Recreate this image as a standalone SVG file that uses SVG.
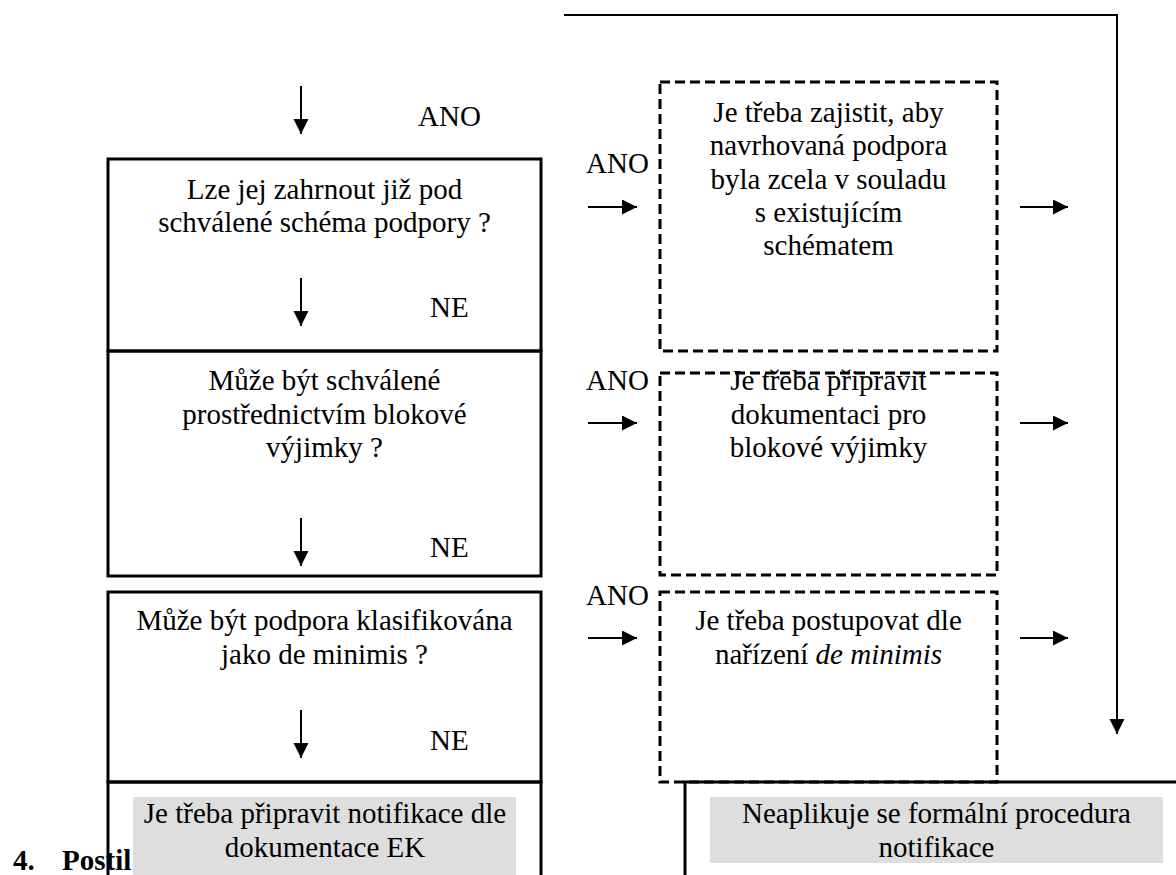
<svg xmlns="http://www.w3.org/2000/svg" width="1176" height="875" viewBox="0 0 1176 875">
<style>
text{font-family:"Times New Roman","Liberation Serif",serif;font-size:29px;fill:#000}
.c{text-anchor:middle}
.b{font-weight:bold}
.box{fill:none;stroke:#000;stroke-width:3}
.dash{fill:none;stroke:#000;stroke-width:3;stroke-dasharray:10 5}
.ln{fill:none;stroke:#000;stroke-width:2}
.hl{fill:#dedede}
</style>
<defs>
<marker id="ah" markerUnits="userSpaceOnUse" markerWidth="16" markerHeight="16" refX="15" refY="7.5" orient="auto">
<path d="M0,0 L15,7.5 L0,15 z" fill="#000"/>
</marker>
</defs>
<rect width="1176" height="875" fill="#fff"/>

<g id="heading">
<text class="b" x="13" y="870">4.</text>
<text class="b" x="62" y="870">Postil</text>
</g>

<g id="q1">
<rect class="box" x="108" y="159" width="433" height="192"/>
<text class="c" x="324.5" y="199">Lze jej zahrnout již pod</text>
<text class="c" x="324.5" y="232">schválené schéma podpory ?</text>
</g>

<g id="q2">
<rect class="box" x="108" y="351" width="433" height="225"/>
<text class="c" x="324.5" y="390">Může být schválené</text>
<text class="c" x="324.5" y="423.5">prostřednictvím blokové</text>
<text class="c" x="324.5" y="457">výjimky ?</text>
</g>

<g id="q3">
<rect class="box" x="108" y="592" width="433" height="190"/>
<text class="c" x="324.5" y="630">Může být podpora klasifikována</text>
<text class="c" x="324.5" y="664">jako de minimis ?</text>
</g>

<g id="notify">
<rect class="box" x="108" y="782" width="433" height="120"/>
<rect class="hl" x="133" y="797" width="383" height="80"/>
<text class="c" x="325" y="823">Je třeba připravit notifikace dle</text>
<text class="c" x="325" y="857">dokumentace EK</text>
</g>

<g id="a1">
<rect class="dash" x="660" y="82" width="337" height="269"/>
<text class="c" x="828.5" y="122">Je třeba zajistit, aby</text>
<text class="c" x="828.5" y="155">navrhovaná podpora</text>
<text class="c" x="828.5" y="188.5">byla zcela v souladu</text>
<text class="c" x="828.5" y="222">s existujícím</text>
<text class="c" x="828.5" y="255">schématem</text>
</g>

<g id="a2">
<rect class="dash" x="660" y="373" width="337" height="202"/>
<text class="c" x="828.5" y="390">Je třeba připravit</text>
<text class="c" x="828.5" y="423.5">dokumentaci pro</text>
<text class="c" x="828.5" y="457">blokové výjimky</text>
</g>

<g id="a3">
<rect class="dash" x="660" y="592" width="337" height="190"/>
<text class="c" x="828.5" y="630">Je třeba postupovat dle</text>
<text class="c" x="828.5" y="664">nařízení <tspan font-style="italic">de minimis</tspan></text>
</g>

<g id="noproc">
<path class="box" d="M685,900 V782 H1180"/>
<rect class="hl" x="710" y="797" width="453" height="66"/>
<text class="c" x="936.5" y="823">Neaplikuje se formální procedura</text>
<text class="c" x="936.5" y="857">notifikace</text>
</g>

<g id="connectors">
<path class="ln" d="M301,86 V134" marker-end="url(#ah)"/>
<path class="ln" d="M301,278 V326" marker-end="url(#ah)"/>
<path class="ln" d="M301,518 V566" marker-end="url(#ah)"/>
<path class="ln" d="M301,710 V758" marker-end="url(#ah)"/>
<path class="ln" d="M588,207 H637" marker-end="url(#ah)"/>
<path class="ln" d="M588,423 H637" marker-end="url(#ah)"/>
<path class="ln" d="M588,638 H637" marker-end="url(#ah)"/>
<path class="ln" d="M1020,207 H1068" marker-end="url(#ah)"/>
<path class="ln" d="M1020,423 H1068" marker-end="url(#ah)"/>
<path class="ln" d="M1020,638 H1068" marker-end="url(#ah)"/>
<path class="ln" d="M564,15 H1117 V734" marker-end="url(#ah)"/>
<text x="418" y="126">ANO</text>
<text x="430" y="317">NE</text>
<text x="430" y="557">NE</text>
<text x="430" y="750">NE</text>
<text x="586" y="173">ANO</text>
<text x="586" y="390">ANO</text>
<text x="586" y="605">ANO</text>
</g>
</svg>
